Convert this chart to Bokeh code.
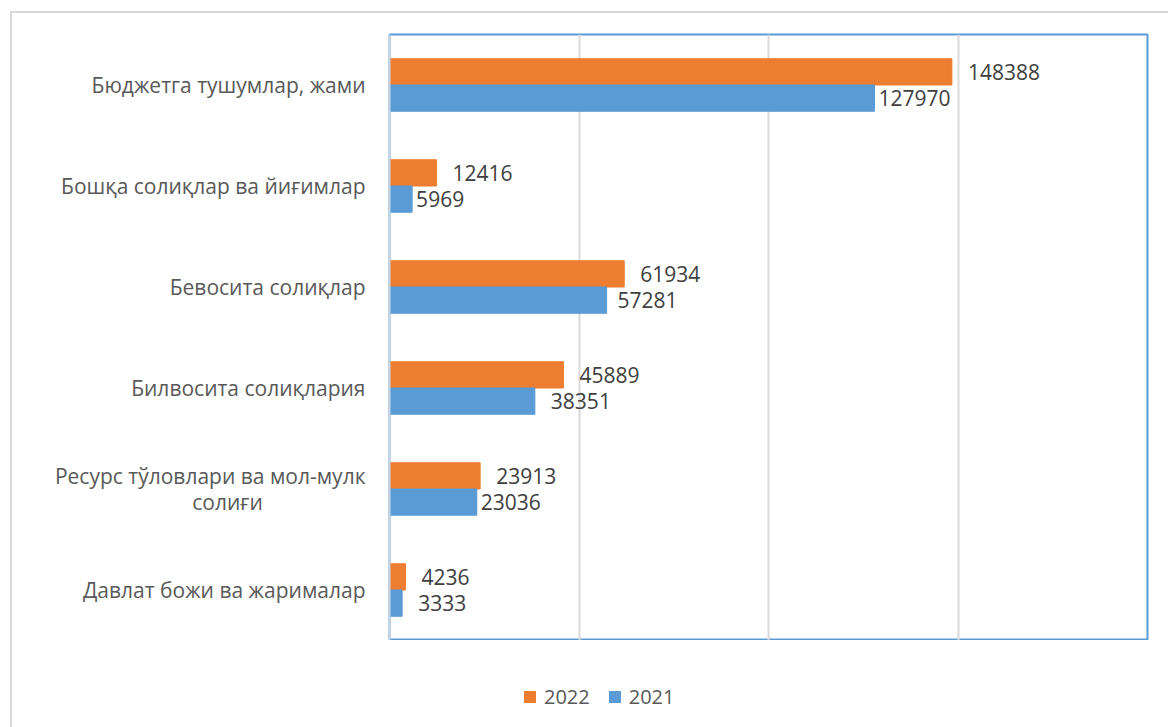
from bokeh.plotting import figure
from bokeh.layouts import column, row
from bokeh.models import (ColumnDataSource, FactorRange, Range1d, Legend, LegendItem,
                          FixedTicker, InlineStyleSheet)
from bokeh.transform import dodge
from bokeh.core.properties import value
from bokeh.embed import file_html
from bokeh.resources import INLINE

# Data (bottom to top)
categories = ["Давлат божи ва жарималар",
              "Ресурс тўловлари ва мол-мулк солиғи",
              "Билвосита солиқлария",
              "Бевосита солиқлар",
              "Бошқа солиқлар ва йиғимлар",
              "Бюджетга тушумлар, жами"]
values_2022 = [4236, 23913, 45889, 61934, 12416, 148388]
values_2021 = [3333, 23036, 38351, 57281, 5969, 127970]
series_names = ["2022", "2021"]
grid_ticks = [50000, 100000, 150000]

# label style offsets (px)
label_offset_2021 = [16, 4, 16, 11, 4, 4]

ORANGE = "#ed7d31"
BLUE = "#5b9bd5"
FONT = "Open Sans"

src = ColumnDataSource(dict(
    cat=categories,
    v22=values_2022,
    v21=values_2021,
    t22=[str(v) for v in values_2022],
    t21=[str(v) for v in values_2021],
    off21=label_offset_2021,
))

y_range = FactorRange(factors=categories, range_padding=0)

# ---- main chart
p = figure(width=789, height=640, output_backend="svg", toolbar_location=None,
           y_range=y_range, x_range=Range1d(0, 200000),
           min_border_left=10, min_border_right=21, min_border_top=34, min_border_bottom=0)
p.xaxis.visible = False
p.ygrid.grid_line_color = None
p.xgrid.ticker = FixedTicker(ticks=grid_ticks)
p.xgrid.grid_line_color = "#d9d9d9"
p.xgrid.grid_line_width = 2
p.outline_line_color = BLUE
p.outline_line_width = 2
p.background_fill_color = "white"
p.border_fill_color = "white"

yax = p.yaxis[0]
yax.ticker = FixedTicker(ticks=[])
yax.axis_line_color = "#c9d5e2"
yax.axis_line_width = 2
yax.major_tick_line_color = None
yax.minor_tick_line_color = None
yax.major_tick_out = 0
yax.major_tick_in = 0
yax.major_label_standoff = 0

r22 = p.hbar(y=dodge("cat", 0.13, range=y_range), right="v22", left=0, height=0.26,
             source=src, color=ORANGE)
r21 = p.hbar(y=dodge("cat", -0.13, range=y_range), right="v21", left=0, height=0.26,
             source=src, color=BLUE)

p.text(x="v22", y=dodge("cat", 0.13, range=y_range), text="t22", source=src,
       x_offset=16, text_baseline="middle", text_align="left",
       text_font=value(FONT), text_font_size="21px", text_color="#404040")
p.text(x="v21", y=dodge("cat", -0.13, range=y_range), text="t21", source=src,
       x_offset="off21", text_baseline="middle", text_align="left",
       text_font=value(FONT), text_font_size="21px", text_color="#404040")

# ---- category labels panel
pl = figure(width=379, height=640, output_backend="svg", toolbar_location=None,
            y_range=y_range, x_range=Range1d(0, 1),
            min_border_left=0, min_border_right=0, min_border_top=34, min_border_bottom=0)
pl.axis.visible = False
pl.grid.grid_line_color = None
pl.outline_line_color = None
pl.border_fill_color = "white"

single = [c for c in categories if c != categories[1]]
lab_src = ColumnDataSource(dict(cat=single, xr=[1] * len(single), txt=single))
pl.text(x="xr", y="cat", text="txt", source=lab_src, x_offset=-14,
        text_baseline="middle", text_align="right",
        text_font=value(FONT), text_font_size="21px", text_color="#595959")
two = ColumnDataSource(dict(cat=[categories[1]], xr=[1],
                            l1=["Ресурс тўловлари ва мол-мулк"], l2=["солиғи"]))
pl.text(x="xr", y="cat", text="l1", source=two, x_offset=-14, y_offset=-13,
        text_baseline="middle", text_align="right",
        text_font=value(FONT), text_font_size="21px", text_color="#595959")
pl.text(x="xr", y="cat", text="l2", source=two, x_offset=-152, y_offset=13,
        text_baseline="middle", text_align="center",
        text_font=value(FONT), text_font_size="21px", text_color="#595959")

# ---- legend strip (proxy glyphs have zero width and lie outside the strip's view)
pg = figure(width=1168, height=87, output_backend="svg", toolbar_location=None,
            x_range=Range1d(0, 1), y_range=Range1d(0, 1),
            min_border_left=0, min_border_right=0, min_border_top=0, min_border_bottom=0)
pg.axis.visible = False
pg.grid.grid_line_color = None
pg.outline_line_color = None
pg.border_fill_color = "white"
g22 = pg.hbar(y="v22", left="v22", right="v22", height=0.26, source=src,
              fill_color=ORANGE, line_color=None)
g21 = pg.hbar(y="v21", left="v21", right="v21", height=0.26, source=src,
              fill_color=BLUE, line_color=None)
legend = Legend(items=[LegendItem(label=series_names[0], renderers=[g22]),
                       LegendItem(label=series_names[1], renderers=[g21])],
                orientation="horizontal", location=(522, 17),
                glyph_width=15, glyph_height=15, label_standoff=7, spacing=17,
                padding=0, margin=0, border_line_color=None, background_fill_alpha=0,
                label_text_font=FONT, label_text_font_size="20px", label_text_color="#595959")
pg.add_layout(legend, "center")

layout = column(row(pl, p, spacing=0), pg, spacing=0)
layout.stylesheets = [InlineStyleSheet(css=":host { position: relative; } :host::after { content: ''; position: absolute; left: 10px; top: 11px; width: 2000px; height: 2000px; border-left: 2px solid #d9d9d9; border-top: 2px solid #d9d9d9; pointer-events: none; z-index: 5; }")]

open("out.html", "w").write(file_html(layout, INLINE))
